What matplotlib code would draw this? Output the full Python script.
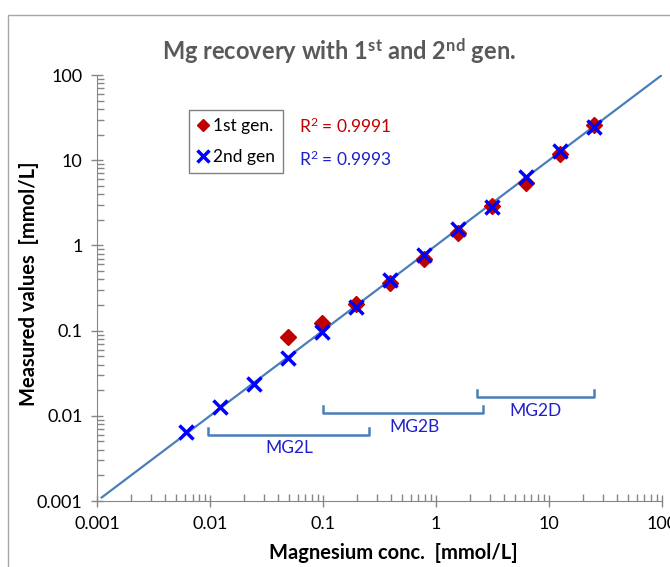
import matplotlib
matplotlib.use("Agg")
import matplotlib.pyplot as plt
from matplotlib.patches import Rectangle
from matplotlib.ticker import LogLocator, FuncFormatter, NullFormatter

# data: two-fold dilution series of Mg standard
conc_2nd = [25, 12.5, 6.25, 3.125, 1.5625, 0.78125, 0.390625, 0.1953, 0.0977, 0.0488, 0.0244, 0.0122, 0.0061]
meas_2nd = [24.5, 12.8, 6.35, 2.85, 1.56, 0.77, 0.39, 0.19, 0.096, 0.048, 0.0236, 0.0127, 0.0065]

conc_1st = [25, 12.5, 6.25, 3.125, 1.5625, 0.78125, 0.390625, 0.1953, 0.0977, 0.0488]
meas_1st = [25.9, 11.8, 5.4, 2.9, 1.40, 0.69, 0.36, 0.205, 0.123, 0.084]

identity_x = [0.0011, 100]

r2_labels = ["R$^2$ = 0.9991", "R$^2$ = 0.9993"]

# measuring ranges shown as brackets
range_names = ["MG2L", "MG2B", "MG2D"]
range_low = [0.0096, 0.1, 2.3]
range_high = [0.255, 2.6, 25]
range_y = [0.006, 0.0108, 0.0166]
range_label_x = [0.05, 0.65, 7.6]

plt.rcParams['font.family'] = ['Lato', 'DejaVu Sans']
plt.rcParams['mathtext.fontset'] = 'custom'
plt.rcParams['mathtext.rm'] = 'Lato'
plt.rcParams['mathtext.bf'] = 'Lato:bold'
plt.rcParams['mathtext.it'] = 'Lato:italic'

fig = plt.figure(figsize=(6.7, 5.67), dpi=100)
ax = fig.add_axes([0.1448, 0.1164, 0.8432, 0.7513])

# outer chart frame
fig.patches.append(Rectangle((8 / 670, -0.1), 1.2, 1.1 - 15 / 567,
                             transform=fig.transFigure, fill=False,
                             edgecolor='#a6a6a6', linewidth=1.0))

ax.plot(identity_x, identity_x, color='#4A7EBB', linewidth=1.6, zorder=2)
ax.plot(conc_1st, meas_1st, linestyle='none', marker='D', markersize=8,
        color='#C00000', label='1st gen.', zorder=3)
ax.plot(conc_2nd, meas_2nd, linestyle='none', marker='x', markersize=10,
        markeredgewidth=2.5, color='#0000FF', label='2nd gen', zorder=4)

ax.set_xscale('log')
ax.set_yscale('log')
ax.set_xlim(0.001, 100)
ax.set_ylim(0.001, 100)

fmt = FuncFormatter(lambda v, p: ('%g' % v))
ax.xaxis.set_major_formatter(fmt)
ax.yaxis.set_major_formatter(fmt)
ax.xaxis.set_minor_locator(LogLocator(base=10, subs=range(2, 10)))
ax.yaxis.set_minor_locator(LogLocator(base=10, subs=range(2, 10)))
ax.xaxis.set_minor_formatter(NullFormatter())
ax.yaxis.set_minor_formatter(NullFormatter())

ax.tick_params(which='major', direction='inout', length=9, width=1,
               color='#868686', labelsize=13, labelcolor='black', pad=6)
ax.tick_params(which='minor', direction='in', length=5, width=1, color='#868686')

for side in ['top', 'right']:
    ax.spines[side].set_visible(False)
for side in ['left', 'bottom']:
    ax.spines[side].set_color('#868686')

ax.set_xlabel('Magnesium conc.  [mmol/L]', fontsize=14.5, fontweight='bold')
ax.set_ylabel('Measured values  [mmol/L]', fontsize=14.5, fontweight='bold')
ax.xaxis.set_label_coords(0.524, -0.098)
ax.yaxis.set_label_coords(-0.103, 0.51)

fig.text(0.506, 0.91, r'Mg recovery with 1$^{\mathbf{st}}$ and 2$^{\mathbf{nd}}$ gen.',
         ha='center', va='center', fontsize=17, fontweight='bold', color='#595959')

leg = ax.legend(loc='upper left', bbox_to_anchor=(0.163, 0.918), fontsize=12.5,
                frameon=True, fancybox=False, edgecolor='#808080', framealpha=1,
                handlelength=0.7, handletextpad=0.25, borderpad=0.45,
                borderaxespad=0, labelspacing=0.9, markerscale=0.8)
leg.get_frame().set_linewidth(1.0)

ax.text(0.357, 0.880, r2_labels[0], transform=ax.transAxes, color='#C00000',
        fontsize=12.5, va='center', ha='left')
ax.text(0.357, 0.803, r2_labels[1], transform=ax.transAxes, color='#1F1FCC',
        fontsize=12.5, va='center', ha='left')

for name, lo, hi, yv, lx in zip(range_names, range_low, range_high, range_y, range_label_x):
    top = yv * 1.2
    ax.plot([lo, lo, hi, hi], [top, yv, yv, top], color='#4A7EBB', linewidth=1.8, zorder=2)
    ax.text(lx, yv / 1.45, name, ha='center', va='center',
            color='#1F1FCC', fontsize=12.5)

fig.savefig('out.png', dpi=100)
